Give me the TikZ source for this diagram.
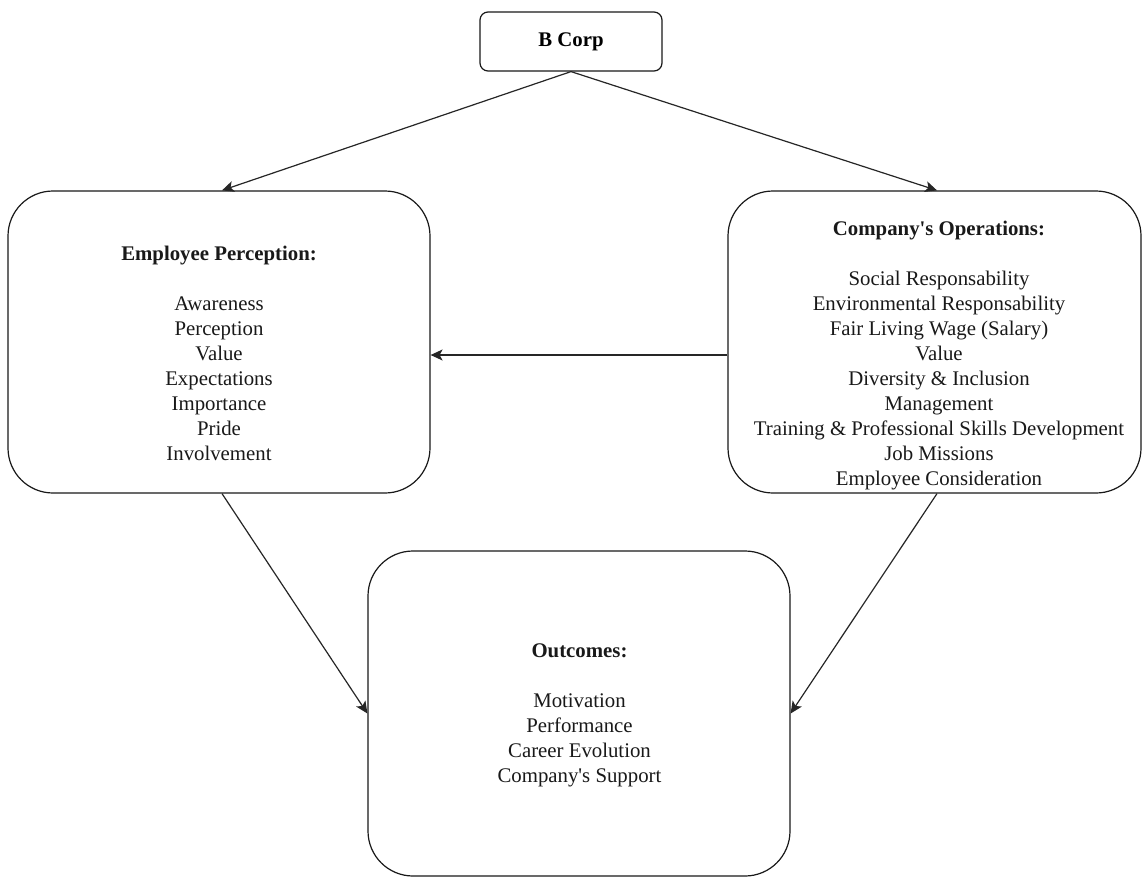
\documentclass[tikz,border=0pt]{standalone}
\usepackage{fontspec}
\setmainfont{Liberation Serif}
\usetikzlibrary{arrows.meta,calc}
\newcommand{\apos}{\textquotesingle}
\begin{document}
\begin{tikzpicture}[x=1pt,y=-1pt,
  box/.style={draw=black!90, line width=1.2pt, rounded corners=45pt, inner sep=0pt, fill=white},
  lbl/.style={align=center, font=\fontsize{20.8}{25}\selectfont, inner sep=0pt, text=black!90},
  arr/.style={draw=black!85, line width=1.2pt, -{Stealth[length=12pt,width=11pt,inset=3pt]}}]
\useasboundingbox[fill=white] (0,0) rectangle (1142,878);
% boxes
\node[box, rounded corners=8pt, minimum width=182pt, minimum height=59pt,
      font=\fontsize{20.8}{25}\selectfont\bfseries] (bcorp) at (571,41.5) {B Corp};
\node[box, minimum width=422pt, minimum height=302pt] (emp) at (219,342) {};
\node[box, minimum width=413pt, minimum height=302pt] (ops) at (934.5,342) {};
\node[box, minimum width=422pt, minimum height=325pt] (out) at (579,713.5) {};
% texts
\node[lbl] (emptxt) at (219,353.5) {\textbf{Employee Perception:}\\[25pt]
  Awareness\\ Perception\\ Value\\ Expectations\\ Importance\\ Pride\\ Involvement};
\node[lbl] (opstxt) at (939,356) {\textbf{Company\apos s Operations:}\\[25pt]
  Social Responsability\\ Environmental Responsability\\ Fair Living Wage (Salary)\\ Value\\
  Diversity \& Inclusion\\ Management\\ Training \& Professional Skills Development\\
  Job Missions\\ Employee Consideration};
\node[lbl] (outtxt) at (579.5,715.8) {\textbf{Outcomes:}\\[25pt]
  Motivation\\ Performance\\ Career Evolution\\ Company\apos s Support};
% connectors
\draw[arr] (bcorp.south) -- ($(emp.north)+(3,0)$);
\draw[arr] (bcorp.south) -- ($(ops.north)+(2.5,0)$);
\draw[arr] ($(ops.west)+(0,13)$) -- ($(emp.east)+(0,13)$);
\draw[arr] ($(emp.south)+(3,0)$) -- (out.west);
\draw[arr] ($(ops.south)+(2.5,0)$) -- (out.east);
\end{tikzpicture}
\end{document}
